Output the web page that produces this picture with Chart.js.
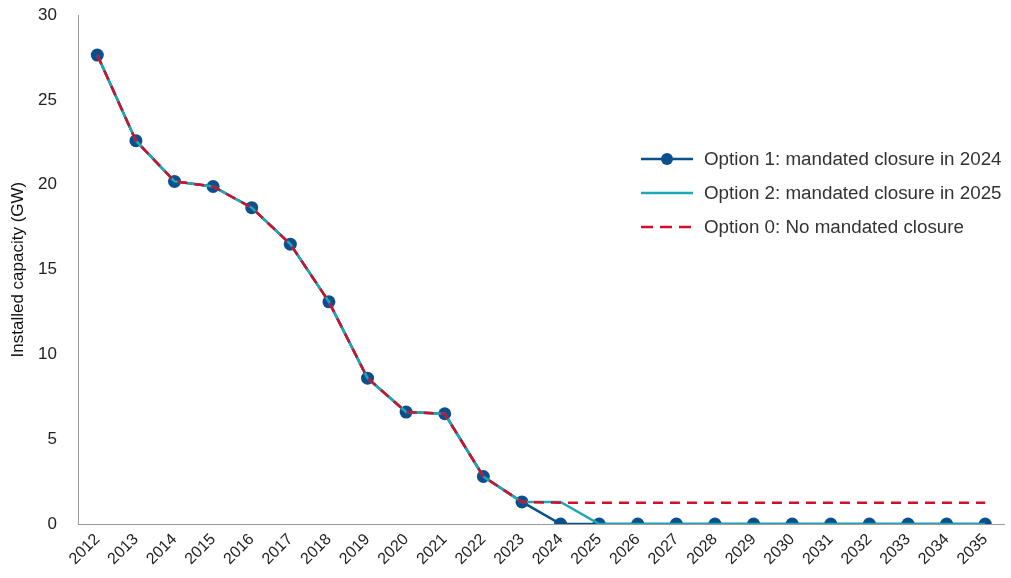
<!DOCTYPE html>
<html>
<head>
<meta charset="utf-8">
<script src="https://cdn.jsdelivr.net/npm/chart.js@4/dist/chart.umd.min.js"></script>
<style>
  html, body { margin: 0; padding: 0; background: #fff; overflow: hidden; }
  #wrap { position: relative; width: 1011px; height: 578px; overflow: hidden; }
  #chart { position: absolute; left: 0; top: -16px; }
  #legend {
    position: absolute; left: 641px; top: 142px;
    font-family: "Liberation Sans", Arial, sans-serif; font-size: 18.8px; color: #333;
  }
  #legend .row { display: flex; align-items: center; height: 34px; }
  #legend svg { margin-right: 11px; }
</style>
</head>
<body>
<div id="wrap">
  <canvas id="chart" width="1011" height="594"></canvas>
  <div id="legend">
    <div class="row">
      <svg width="52" height="14"><line x1="0" y1="7" x2="52" y2="7" stroke="#0b4f8c" stroke-width="2.5"/><circle cx="26" cy="7" r="6" fill="#0b4f8c"/></svg>
      <span>Option 1: mandated closure in 2024</span>
    </div>
    <div class="row">
      <svg width="52" height="14"><line x1="0" y1="7" x2="52" y2="7" stroke="#1ba8b8" stroke-width="2.5"/></svg>
      <span>Option 2: mandated closure in 2025</span>
    </div>
    <div class="row">
      <svg width="52" height="14"><line x1="0" y1="7" x2="52" y2="7" stroke="#d0102a" stroke-width="2.5" stroke-dasharray="12,7"/></svg>
      <span>Option 0: No mandated closure</span>
    </div>
  </div>
</div>
<script>
const years = ['2012', '2013', '2014', '2015', '2016', '2017', '2018', '2019', '2020', '2021', '2022', '2023',
  '2024', '2025', '2026', '2027', '2028', '2029', '2030', '2031', '2032', '2033', '2034', '2035'];

// Installed capacity (GW)
const option1 = [27.65, 22.6, 20.2, 19.9, 18.65, 16.5, 13.1, 8.6, 6.6, 6.5, 2.8, 1.3,
  0, 0, 0, 0, 0, 0, 0, 0, 0, 0, 0, 0];
const option2 = [27.65, 22.6, 20.2, 19.9, 18.65, 16.5, 13.1, 8.6, 6.6, 6.5, 2.8, 1.3,
  1.3, 0, 0, 0, 0, 0, 0, 0, 0, 0, 0, 0];
const option0 = [27.65, 22.6, 20.2, 19.9, 18.65, 16.5, 13.1, 8.6, 6.6, 6.5, 2.8, 1.3,
  1.25, 1.25, 1.25, 1.25, 1.25, 1.25, 1.25, 1.25, 1.25, 1.25, 1.25, 1.25];

const yTicks = [0, 5, 10, 15, 20, 25, 30];

const font = "'Liberation Sans', Arial, sans-serif";
const textColor = '#222';

const ctx = document.getElementById('chart').getContext('2d');
new Chart(ctx, {
  type: 'line',
  data: {
    labels: years,
    datasets: [
      {
        label: 'Option 0: No mandated closure',
        data: option0,
        borderColor: '#d0102a',
        borderWidth: 2.5,
        borderDash: [10, 7],
        pointRadius: 0,
        tension: 0,
        order: 1
      },
      {
        label: 'Option 2: mandated closure in 2025',
        data: option2,
        borderColor: '#1ba8b8',
        borderWidth: 2.5,
        pointRadius: 0,
        tension: 0,
        order: 2
      },
      {
        label: 'Option 1: mandated closure in 2024',
        data: option1,
        borderColor: '#0b4f8c',
        backgroundColor: '#0b4f8c',
        borderWidth: 2.5,
        pointRadius: 6.5,
        pointBorderWidth: 0,
        tension: 0,
        order: 3
      }
    ]
  },
  options: {
    responsive: false,
    animation: false,
    layout: { padding: { top: 0, right: 6, left: 0, bottom: 0 } },
    plugins: {
      legend: { display: false },
      tooltip: { enabled: false }
    },
    scales: {
      x: {
        offset: true,
        afterFit: (axis) => { axis.height = 54; },
        grid: { display: false, drawTicks: false },
        border: { color: '#9a9a9a', width: 1 },
        ticks: {
          color: textColor,
          font: { family: font, size: 16 },
          minRotation: 45,
          maxRotation: 45,
          padding: 6
        }
      },
      y: {
        min: 0,
        max: 30,
        afterBuildTicks: (axis) => { axis.ticks = yTicks.map(v => ({ value: v })); },
        afterFit: (axis) => { axis.width = 78; },
        grid: { display: false, drawTicks: false },
        border: { color: '#9a9a9a', width: 1 },
        title: {
          display: true,
          text: 'Installed capacity (GW)',
          color: '#111',
          font: { family: font, size: 17 },
          padding: { top: 8, bottom: 0 }
        },
        ticks: {
          color: textColor,
          font: { family: font, size: 17 },
          padding: 21
        }
      }
    }
  }
});
</script>
</body>
</html>
